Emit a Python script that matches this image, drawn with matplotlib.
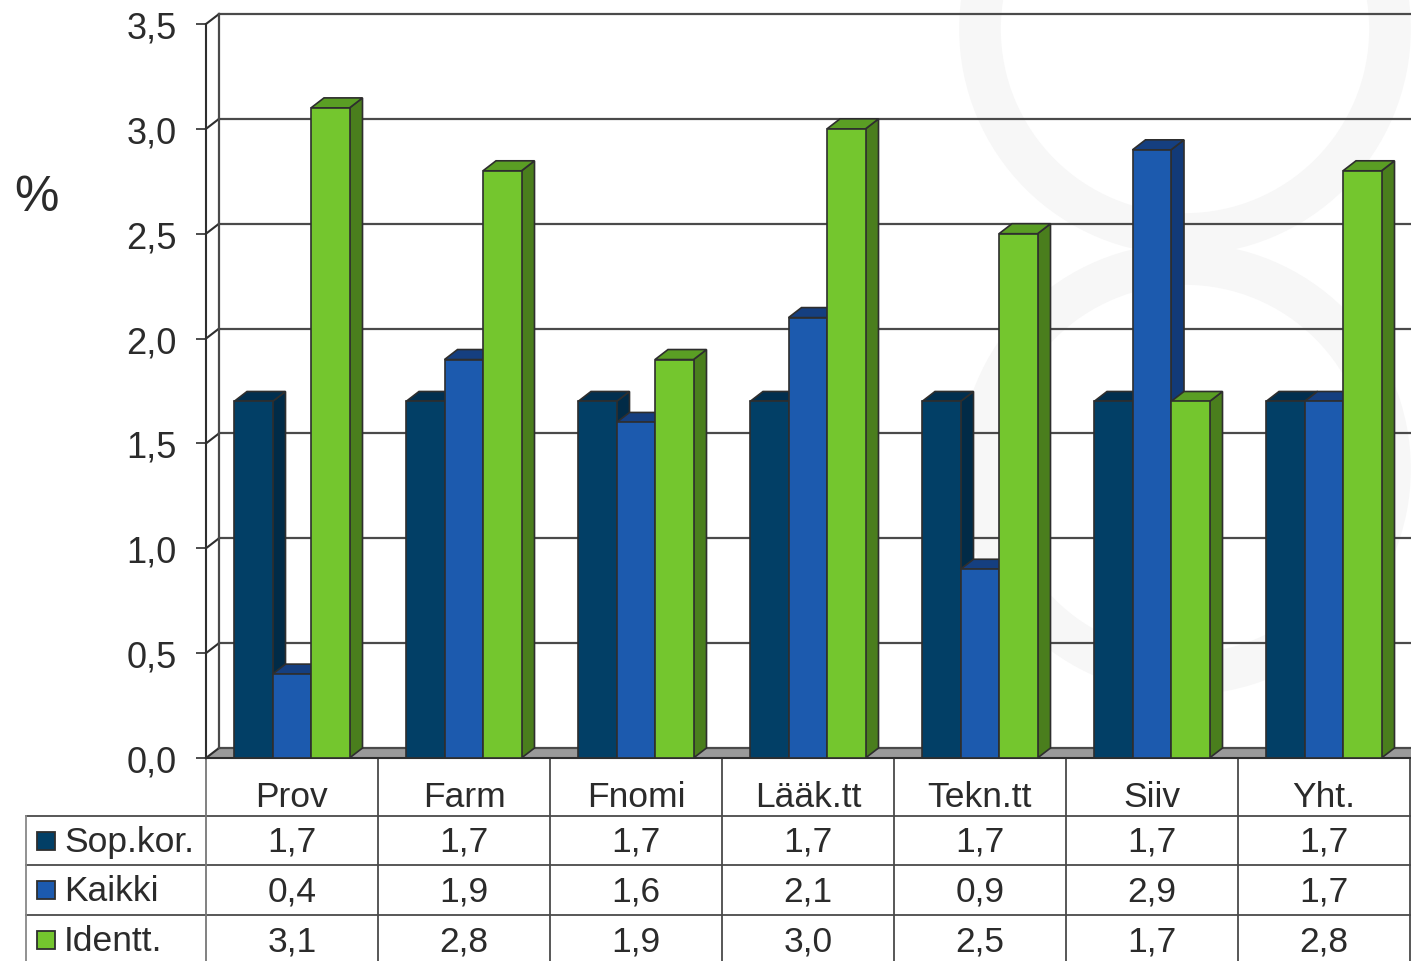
"""
3D-style clustered bar chart with data table underneath
"""
import matplotlib
matplotlib.use('Agg')
import matplotlib.pyplot as plt
from matplotlib.patches import Polygon, Rectangle, Circle
import numpy as np

plt.rcParams['font.family'] = ['Liberation Sans', 'DejaVu Sans']

categories = ['Prov', 'Farm', 'Fnomi', 'Lääk.tt', 'Tekn.tt', 'Siiv', 'Yht.']
series_names = ['Sop.kor.', 'Kaikki', 'Identt.']
sop_kor = [1.7, 1.7, 1.7, 1.7, 1.7, 1.7, 1.7]
kaikki = [0.4, 1.9, 1.6, 2.1, 0.9, 2.9, 1.7]
identt = [3.1, 2.8, 1.9, 3.0, 2.5, 1.7, 2.8]
yticks = [0.0, 0.5, 1.0, 1.5, 2.0, 2.5, 3.0, 3.5]

# front, top, side colours per series
colors = [
    ('#023f66', '#012f4f', '#012b47'),
    ('#1c5aae', '#153f80', '#123a78'),
    ('#74c62e', '#5a9e24', '#4a7e1d'),
]
text_col = '#2b2b2b'
edge_col = '#2e2e2e'

W, H = 1411, 962
fig = plt.figure(figsize=(W / 100, H / 100), dpi=100)

# background layer in pixel coordinates (watermark + table)
bg = fig.add_axes([0, 0, 1, 1])
bg.set_xlim(0, W)
bg.set_ylim(H, 0)
bg.axis('off')
for cy in (30, 470):
    bg.add_patch(Circle((1185, cy), 205, fill=False, lw=30, ec='#f7f7f7', zorder=0))

# main chart axes: x in group units, y in %
x_front, y_front, y_top, col_w = 206, 759, 25, 172
n = len(categories)
ax = fig.add_axes([x_front / W, (H - y_front) / H, n * col_w / W, (y_front - y_top) / H])
ax.set_xlim(-0.5, n - 0.5)
ax.set_ylim(0, 3.5)
ax.patch.set_alpha(0)
for s in ax.spines.values():
    s.set_visible(False)

dx = 13 / col_w
dy = 10 / ((y_front - y_top) / 3.5)
xl, xr = -0.5, n - 0.5 + 0.2

# floor
ax.add_patch(Polygon([(xl, 0), (xr, 0), (xr + dx, dy), (xl + dx, dy)],
                     closed=True, fc='#9a9a9a', ec='none', clip_on=False, zorder=1))
ax.plot([xl, xr], [0, 0], color=edge_col, lw=1.5, clip_on=False, zorder=1)

# back wall gridlines, left wall connectors
for t in yticks:
    ax.plot([xl + dx, xr + dx], [t + dy, t + dy], color='#4a4a4a', lw=1.6,
            clip_on=False, zorder=1)
    ax.plot([xl, xl + dx], [t, t + dy], color=edge_col, lw=1.5, clip_on=False, zorder=1)
ax.plot([xl + dx, xl + dx], [dy, 3.5 + dy], color='#4a4a4a', lw=1.6, clip_on=False, zorder=1)
ax.plot([xl, xl], [0, 3.5], color=edge_col, lw=1.5, clip_on=False, zorder=1)

# bars
bw = 38.5 / col_w
start = 28 / col_w
for j, vals in enumerate([sop_kor, kaikki, identt]):
    fc, tc, sc = colors[j]
    for i, v in enumerate(vals):
        x0 = i - 0.5 + start + j * bw
        z = 3 + j
        ax.add_patch(Polygon([(x0 + bw, 0), (x0 + bw + dx, dy), (x0 + bw + dx, v + dy), (x0 + bw, v)],
                             closed=True, fc=sc, ec=edge_col, lw=1.2, zorder=z))
        ax.add_patch(Polygon([(x0, v), (x0 + bw, v), (x0 + bw + dx, v + dy), (x0 + dx, v + dy)],
                             closed=True, fc=tc, ec=edge_col, lw=1.2, zorder=z))
        ax.add_patch(Rectangle((x0, 0), bw, v, fc=fc, ec=edge_col, lw=1.2, zorder=z + 0.1))

ax.set_xticks([])
ax.set_yticks(yticks)
ax.set_yticklabels([f'{t:.1f}'.replace('.', ',') for t in yticks])
ax.tick_params(axis='y', length=7, width=1.2, color=edge_col, pad=14,
               labelsize=26, labelcolor=text_col)

fig.text(36 / W, 1 - 198 / H, '%', fontsize=36, color=text_col, ha='center', va='center')

# data table
fs = 25.5
row_y = [760, 817, 866, 916, H + 2]
lc = '#4a4a4a'
bg.plot([26, W], [row_y[1], row_y[1]], color=lc, lw=1.3, zorder=2)
bg.plot([26, W], [row_y[2], row_y[2]], color=lc, lw=1.3, zorder=2)
bg.plot([26, W], [row_y[3], row_y[3]], color=lc, lw=1.3, zorder=2)
bg.plot([26, 26], [row_y[1], H], color='#888888', lw=1.3, zorder=2)
for k in range(n + 1):
    xk = x_front + k * col_w
    bg.plot([xk, xk], [row_y[0], H], color=lc if k else '#777777', lw=1.3, zorder=2)

for i, c in enumerate(categories):
    cx = x_front + (i + 0.5) * col_w
    bg.text(cx, (row_y[0] + row_y[1]) / 2 + 9, c, fontsize=fs, color=text_col,
            ha='center', va='center')

for j, (name, vals) in enumerate(zip(series_names, [sop_kor, kaikki, identt])):
    cy = (row_y[j + 1] + row_y[j + 2]) / 2 if j < 2 else (row_y[3] + 966) / 2
    bg.add_patch(Rectangle((37, cy - 9), 18, 18, fc=colors[j][0], ec=edge_col, lw=1.3, zorder=3))
    bg.text(64, cy + 1, name, fontsize=fs, color=text_col, ha='left', va='center')
    for i, v in enumerate(vals):
        cx = x_front + (i + 0.5) * col_w
        bg.text(cx, cy + 1, f'{v:.1f}'.replace('.', ','), fontsize=fs, color=text_col,
                ha='center', va='center')

plt.savefig('out.png', dpi=100)
